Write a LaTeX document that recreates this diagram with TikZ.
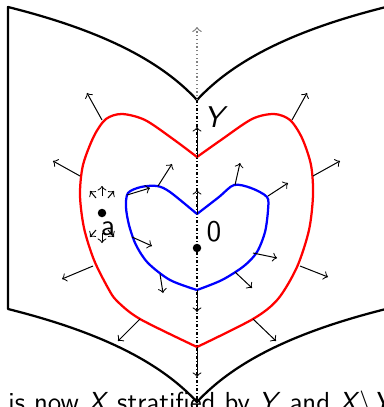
\documentclass[tikz,border=0pt]{standalone}
\usepackage{fontspec}
\usepackage{amsmath,amssymb}
\usetikzlibrary{positioning}
\newcommand{\sfvar}[1]{\textit{#1}}

\begin{document}
\begin{tikzpicture}[
  x=0.4pt, y=-0.4pt,
  font=\sffamily\large,
  book/.style={draw, line width=0.9pt, line join=round},
  outerset/.style={draw=red, line width=0.9pt},
  innerset/.style={draw=blue, line width=0.9pt},
  stratum/.style={line width=0.7pt, dash pattern=on 1.2pt off 0.8pt on 0.4pt off 0.8pt},
  ghost/.style={gray, densely dotted, line width=0.5pt},
  nvec/.style={->, line width=0.4pt},
  dot/.style={circle, fill, inner sep=0pt, minimum size=3.4pt},
  lbl/.style={inner sep=0pt},
]
  \useasboundingbox (0,0) rectangle (384,407);

  % the space X, folded along Y
  \draw[book] (8,7) .. controls (100,30) and (160,60) .. (197,100)
    .. controls (234,60) and (294,30) .. (386,7) -- (386,309)
    .. controls (294,332) and (234,362) .. (197,402)
    .. controls (160,362) and (100,332) .. (8,309) -- cycle;

  % the stratum Y
  \coordinate (ytop) at (197,100);
  \coordinate (yup) at (197,27);
  \coordinate (ybot) at (197,412);
  \draw[ghost, ->] (ytop) -- (yup);
  \draw[stratum] (ytop) -- (ybot);
  \node[lbl] (ylabel) at (216,117) {\sfvar{Y}};

  % outer neighbourhood
  \draw[outerset] plot[smooth] coordinates {(197,157) (173,139) (145,120) (122,114) (106,119) (94,136)
      (83,165) (80,195) (84,228) (94,260) (108,288) (117,301) (140,319) (197,347)}
    -- plot[smooth] coordinates {(197,347) (253,319) (278,299) (297,267) (309,230) (313,195)
      (311,165) (302,138) (290,120) (274,114) (252,119) (221,140) (197,157)};

  % inner neighbourhood
  \draw[innerset] plot[smooth] coordinates {(197,214) (170,192) (157,186) (141,187) (128,193)
      (126,207) (129,225) (136,245) (148,263) (170,280) (197,290)}
    -- plot[smooth] coordinates {(197,290) (222,280) (244,266) (257,252) (265,232) (268,210)
      (267,197) (251,188) (234,185) (219,197) (197,214)};

  % normal vectors on the red curve
  \draw[nvec] (102,120) -- (87,93);
  \draw[nvec] (292,120) -- (307,93);
  \draw[nvec] (80,176) -- (53,161);
  \draw[nvec] (313,176) -- (340,161);
  \draw[nvec] (93,266) -- (62,279);
  \draw[nvec] (300,266) -- (328,277);
  \draw[nvec] (140,319) -- (118,341);
  \draw[nvec] (253,319) -- (276,341);
  \draw[nvec] (197,157) -- (197,127);
  \draw[nvec] (197,347) -- (197,377);

  % normal vectors on the blue curve
  \draw[nvec] (127,195) -- (150,188);
  \draw[nvec] (158,186) -- (172,164);
  \draw[nvec] (235,185) -- (240,163);
  \draw[nvec] (268,196) -- (288,183);
  \draw[nvec] (132,237) -- (152,246);
  \draw[nvec] (253,253) -- (277,258);
  \draw[nvec] (160,274) -- (163,293);
  \draw[nvec] (235,272) -- (252,288);
  \draw[nvec] (197,214) -- (197,190);
  \draw[nvec] (197,290) -- (197,312);

  % the point a and its little flow
  \node[dot] (pa) at (102,213) {};
  \node[lbl] (alabel) at (108,229) {a};
  \draw[nvec] (96,198) -- (90,191);
  \draw[nvec] (102,196) -- (102,186);
  \draw[nvec] (108,198) -- (114,191);
  \draw[nvec] (96,230) -- (90,237);
  \draw[nvec] (102,233) -- (102,243);
  \draw[nvec] (108,230) -- (114,237);

  % the point 0 on Y
  \node[lbl] (p0) at (197,248) {};
  \node[dot] at (p0) {};
  \node[lbl] (zlabel) at (214,232) {0};

  \node[lbl, anchor=base west, font=\sffamily\fontsize{11}{13}\selectfont] (caption) at (8,411)
    {is now \sfvar{X} stratified by \sfvar{Y} and \sfvar{X}$\setminus$\sfvar{Y}};
\end{tikzpicture}
\end{document}
